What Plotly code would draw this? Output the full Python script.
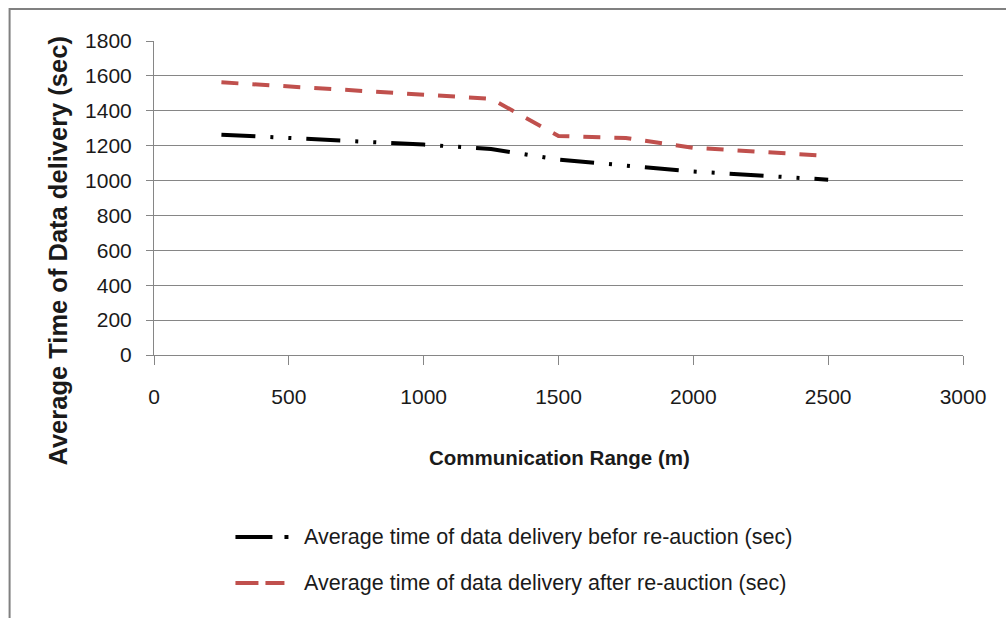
import plotly.graph_objects as go

# Data
x_before = [250, 1000, 1250, 1500, 2000, 2500]
y_before = [1263, 1206, 1181, 1120, 1052, 1005]
x_after = [250, 1250, 1500, 1750, 2000, 2500]
y_after = [1563, 1469, 1256, 1244, 1188, 1141]

name_before = "Average time of data delivery befor re-auction (sec)"
name_after = "Average time of data delivery after re-auction (sec)"
x_ticks = [0, 500, 1000, 1500, 2000, 2500, 3000]
y_ticks = [0, 200, 400, 600, 800, 1000, 1200, 1400, 1600, 1800]

W, H = 1006, 618
L, R, T, B = 153.5, 43, 41, 263
PW, PH = W - L - R, H - T - B


def px(xp):
    return (xp - L) / PW


def py(yp):
    return (H - B - yp) / PH


FONT = "Liberation Sans, Arial, sans-serif"
BLACK_DASH = "34px,15px,3px,15px,3px,15px"
RED_DASH = "17px,14px"
BLACK = "#000000"
RED = "#C0504D"
GRID = "#868686"
TXT = "#1a1a1a"

fig = go.Figure()
fig.add_trace(go.Scatter(x=x_before, y=y_before, mode="lines", name=name_before,
                         line=dict(color=BLACK, width=4, dash=BLACK_DASH)))
fig.add_trace(go.Scatter(x=x_after, y=y_after, mode="lines", name=name_after,
                         line=dict(color=RED, width=4, dash=RED_DASH)))

fig.update_layout(
    width=W, height=H,
    margin=dict(l=L, r=R, t=T, b=B, pad=0),
    paper_bgcolor="white", plot_bgcolor="white",
    showlegend=False,
    font=dict(family=FONT, size=21, color=TXT),
    xaxis=dict(range=[0, 3000], tickvals=x_ticks, showgrid=False, zeroline=False,
               showline=True, linecolor=GRID, linewidth=1,
               ticks="outside", ticklen=9, tickcolor=GRID, tickwidth=1,
               ticklabelstandoff=14, fixedrange=True),
    yaxis=dict(range=[0, 1800], tickvals=y_ticks, showgrid=True, gridcolor=GRID, gridwidth=1,
               zeroline=False, showline=True, linecolor=GRID, linewidth=1,
               ticks="outside", ticklen=7, tickcolor=GRID, tickwidth=1,
               ticklabelstandoff=10, fixedrange=True),
)

# Axis titles
fig.add_annotation(text="<b>Average Time of Data delivery (sec)</b>", textangle=-90,
                   xref="paper", yref="paper", x=px(57), y=py(251), showarrow=False,
                   xanchor="center", yanchor="middle",
                   font=dict(family=FONT, size=25.5, color=TXT))
fig.add_annotation(text="<b>Communication Range (m)</b>",
                   xref="paper", yref="paper", x=px(559), y=py(457), showarrow=False,
                   xanchor="center", yanchor="middle",
                   font=dict(family=FONT, size=20.5, color=TXT))

# Custom legend
for yy, col, dash, label in [(537, BLACK, "37px,12px,4px,30px", name_before),
                             (583, RED, "23px,7px,19px,30px", name_after)]:
    fig.add_shape(type="line", xref="paper", yref="paper",
                  x0=px(235), x1=px(290), y0=py(yy), y1=py(yy),
                  line=dict(color=col, width=4, dash=dash))
    fig.add_annotation(text=label, xref="paper", yref="paper", x=px(302), y=py(yy),
                       showarrow=False, xanchor="left", yanchor="middle",
                       font=dict(family=FONT, size=21.5, color=TXT))

# Chart-area frame (left and top edges visible)
fig.add_shape(type="rect", xref="paper", yref="paper",
              x0=px(9), x1=px(1030), y0=py(9), y1=py(650),
              line=dict(color="#808080", width=2), fillcolor="rgba(0,0,0,0)", layer="below")

fig.write_html("out.html", config={"displayModeBar": False},
               post_script="document.body.style.margin='0px';document.body.style.overflow='hidden';")
